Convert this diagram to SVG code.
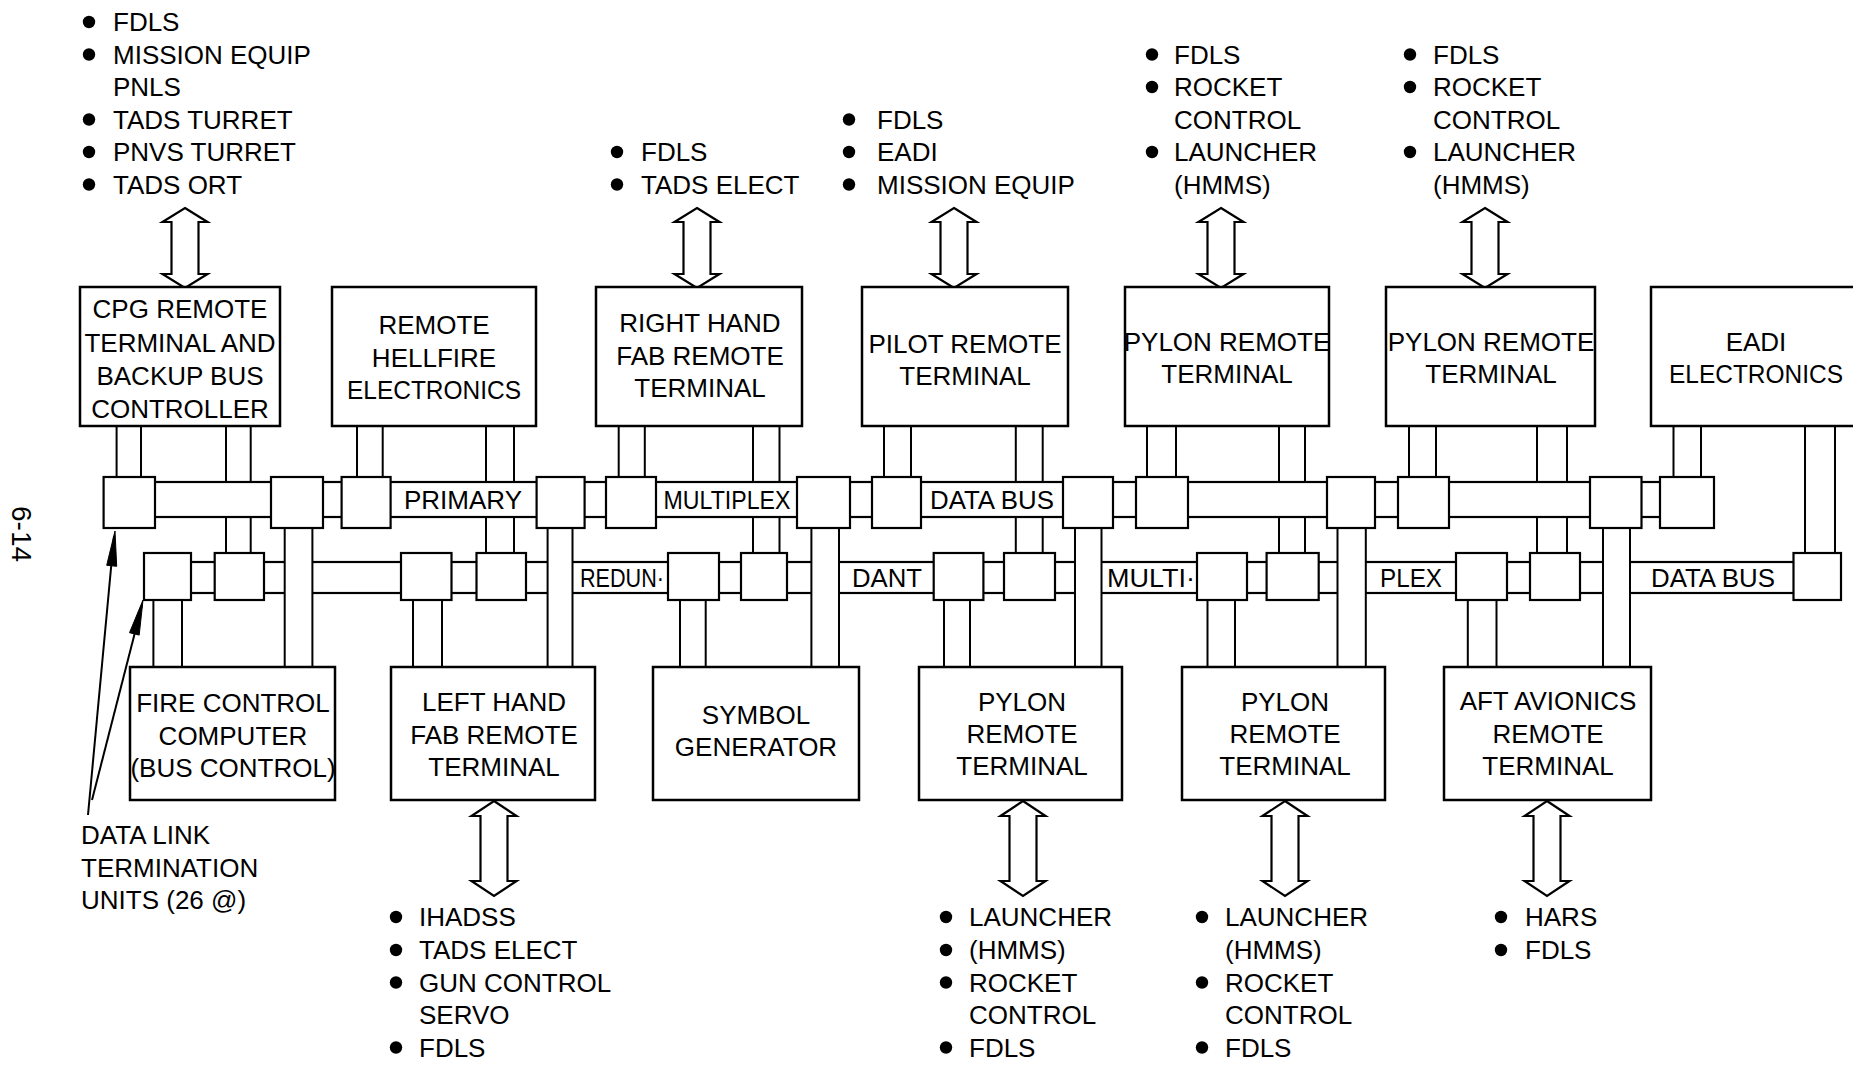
<svg xmlns="http://www.w3.org/2000/svg" xmlns:xlink="http://www.w3.org/1999/xlink" width="1853" height="1065" viewBox="0 0 1853 1065">
<style>
.box{fill:#fff;stroke:#000;stroke-width:2.5}
.dl{fill:#fff;stroke:#000;stroke-width:2.2}
.cab{fill:#fff;stroke:#000;stroke-width:2}
.bus{fill:#fff;stroke:#000;stroke-width:2.2}
.arr{fill:#fff;stroke:#000;stroke-width:2.2;stroke-linejoin:miter}
.ln{fill:none;stroke:#000;stroke-width:2}
.ah{fill:#000;stroke:#000;stroke-width:1}
text{font-family:"Liberation Sans",Arial,sans-serif;font-size:26px;fill:#000}
.c{text-anchor:middle}
.bl{fill:#000}
</style>
<defs>
<path id="darT" class="arr" d="M0,0 L22.5,14 L13.5,14 L13.5,66 L22.5,66 L0,80 L-22.5,66 L-13.5,66 L-13.5,14 L-22.5,14 Z"/>
<path id="darB" class="arr" d="M0,0 L22.5,15 L13.5,15 L13.5,80 L22.5,80 L0,95 L-22.5,80 L-13.5,80 L-13.5,15 L-22.5,15 Z"/>
</defs>
<rect width="1853" height="1065" fill="#fff"/>

<g id="connectors">
  <rect class="cab" x="226" y="426" width="24.7" height="127"/>
  <rect class="cab" x="486" y="426" width="28" height="127"/>
  <rect class="cab" x="753" y="426" width="26.5" height="127"/>
  <rect class="cab" x="1015.8" y="426" width="26.9" height="127"/>
  <rect class="cab" x="1279" y="426" width="26" height="127"/>
  <rect class="cab" x="1537" y="426" width="30" height="127"/>
  <rect class="cab" x="1805" y="426" width="30" height="127"/>
  <rect class="cab" x="116.6" y="426" width="24.4" height="51"/>
  <rect class="cab" x="357" y="426" width="25.7" height="51"/>
  <rect class="cab" x="618.7" y="426" width="26.1" height="51"/>
  <rect class="cab" x="884" y="426" width="27" height="51"/>
  <rect class="cab" x="1147" y="426" width="29" height="51"/>
  <rect class="cab" x="1409" y="426" width="27" height="51"/>
  <rect class="cab" x="1673.5" y="426" width="27.5" height="51"/>
  <rect class="bus" x="130" y="482" width="1560" height="35"/>
  <rect class="bus" x="165" y="562" width="1650" height="31"/>
  <rect class="cab" x="284.7" y="528" width="27.7" height="139"/>
  <rect class="cab" x="547.6" y="528" width="24.9" height="139"/>
  <rect class="cab" x="811.4" y="528" width="27.6" height="139"/>
  <rect class="cab" x="1075" y="528" width="26.5" height="139"/>
  <rect class="cab" x="1337.5" y="528" width="28.3" height="139"/>
  <rect class="cab" x="1603" y="528" width="27" height="139"/>
  <rect class="cab" x="153.4" y="600" width="28.6" height="67"/>
  <rect class="cab" x="413" y="600" width="29" height="67"/>
  <rect class="cab" x="680" y="600" width="25.7" height="67"/>
  <rect class="cab" x="944" y="600" width="26" height="67"/>
  <rect class="cab" x="1207.5" y="600" width="27.5" height="67"/>
  <rect class="cab" x="1467.8" y="600" width="28.7" height="67"/>
  <text class="c" x="463" y="509">PRIMARY</text>
  <text class="c" x="727" y="509" textLength="127" lengthAdjust="spacingAndGlyphs">MULTIPLEX</text>
  <text class="c" x="992" y="509" textLength="124" lengthAdjust="spacingAndGlyphs">DATA BUS</text>
  <text class="c" x="622" y="587" textLength="84" lengthAdjust="spacingAndGlyphs">REDUN·</text>
  <text class="c" x="887" y="587" textLength="70" lengthAdjust="spacingAndGlyphs">DANT</text>
  <text class="c" x="1151" y="587" textLength="88" lengthAdjust="spacingAndGlyphs">MULTI·</text>
  <text class="c" x="1411" y="587" textLength="62" lengthAdjust="spacingAndGlyphs">PLEX</text>
  <text class="c" x="1713" y="587" textLength="124" lengthAdjust="spacingAndGlyphs">DATA BUS</text>
  <rect class="dl" x="103.6" y="477" width="51.4" height="51"/>
  <rect class="dl" x="271" y="477" width="52" height="51"/>
  <rect class="dl" x="341.6" y="477" width="49" height="51"/>
  <rect class="dl" x="536.6" y="477" width="48" height="51"/>
  <rect class="dl" x="606" y="477" width="50" height="51"/>
  <rect class="dl" x="797" y="477" width="53" height="51"/>
  <rect class="dl" x="872" y="477" width="49" height="51"/>
  <rect class="dl" x="1063" y="477" width="50" height="51"/>
  <rect class="dl" x="1136" y="477" width="52" height="51"/>
  <rect class="dl" x="1327" y="477" width="48" height="51"/>
  <rect class="dl" x="1398" y="477" width="51" height="51"/>
  <rect class="dl" x="1590" y="477" width="51.5" height="51"/>
  <rect class="dl" x="1660" y="477" width="54" height="51"/>
  <rect class="dl" x="144" y="553" width="47" height="47"/>
  <rect class="dl" x="214.7" y="553" width="49.3" height="47"/>
  <rect class="dl" x="401" y="553" width="50.5" height="47"/>
  <rect class="dl" x="476.5" y="553" width="49.5" height="47"/>
  <rect class="dl" x="668" y="553" width="51" height="47"/>
  <rect class="dl" x="741" y="553" width="46" height="47"/>
  <rect class="dl" x="933.7" y="553" width="49.7" height="47"/>
  <rect class="dl" x="1004" y="553" width="51" height="47"/>
  <rect class="dl" x="1197" y="553" width="50" height="47"/>
  <rect class="dl" x="1266.6" y="553" width="52.1" height="47"/>
  <rect class="dl" x="1456" y="553" width="51" height="47"/>
  <rect class="dl" x="1530" y="553" width="50" height="47"/>
  <rect class="dl" x="1793.5" y="553" width="47.5" height="47"/>
  <use xlink:href="#darT" x="185" y="208"/>
  <use xlink:href="#darT" x="697" y="208"/>
  <use xlink:href="#darT" x="954" y="208"/>
  <use xlink:href="#darT" x="1221" y="208"/>
  <use xlink:href="#darT" x="1485" y="208"/>
  <use xlink:href="#darB" x="494" y="801"/>
  <use xlink:href="#darB" x="1023" y="801"/>
  <use xlink:href="#darB" x="1285" y="801"/>
  <use xlink:href="#darB" x="1547" y="801"/>
  <line class="ln" x1="88" y1="815" x2="114" y2="536"/>
  <polygon class="ah" points="115,531 116.7,566.3 106.7,565.3"/>
  <line class="ln" x1="92" y1="800" x2="142" y2="605"/>
  <polygon class="ah" points="143,600 139.2,635.1 129.5,632.7"/>
</g>

<g id="cpg-remote-terminal">
  <rect class="box" x="80" y="287" width="200" height="139"/>
  <text class="c" x="180" y="318">CPG REMOTE</text>
  <text class="c" x="180" y="352">TERMINAL AND</text>
  <text class="c" x="180" y="385">BACKUP BUS</text>
  <text class="c" x="180" y="418">CONTROLLER</text>
</g>
<g id="remote-hellfire-electronics">
  <rect class="box" x="332" y="287" width="204" height="139"/>
  <text class="c" x="434" y="334">REMOTE</text>
  <text class="c" x="434" y="367">HELLFIRE</text>
  <text class="c" x="434" y="399" textLength="174" lengthAdjust="spacingAndGlyphs">ELECTRONICS</text>
</g>
<g id="rh-fab-remote-terminal">
  <rect class="box" x="596" y="287" width="206" height="139"/>
  <text class="c" x="700" y="332">RIGHT HAND</text>
  <text class="c" x="700" y="365">FAB REMOTE</text>
  <text class="c" x="700" y="397">TERMINAL</text>
</g>
<g id="pilot-remote-terminal">
  <rect class="box" x="862" y="287" width="206" height="139"/>
  <text class="c" x="965" y="353">PILOT REMOTE</text>
  <text class="c" x="965" y="385">TERMINAL</text>
</g>
<g id="pylon-remote-terminal-top-1">
  <rect class="box" x="1125" y="287" width="204" height="139"/>
  <text class="c" x="1227" y="351">PYLON REMOTE</text>
  <text class="c" x="1227" y="383">TERMINAL</text>
</g>
<g id="pylon-remote-terminal-top-2">
  <rect class="box" x="1386" y="287" width="209" height="139"/>
  <text class="c" x="1491" y="351">PYLON REMOTE</text>
  <text class="c" x="1491" y="383">TERMINAL</text>
</g>
<g id="eadi-electronics">
  <rect class="box" x="1651" y="287" width="220" height="139"/>
  <text class="c" x="1756" y="351">EADI</text>
  <text class="c" x="1756" y="383" textLength="174" lengthAdjust="spacingAndGlyphs">ELECTRONICS</text>
</g>

<g id="fire-control-computer">
  <rect class="box" x="130" y="667" width="205" height="133"/>
  <text class="c" x="233" y="712">FIRE CONTROL</text>
  <text class="c" x="233" y="745">COMPUTER</text>
  <text class="c" x="233" y="777">(BUS CONTROL)</text>
</g>
<g id="lh-fab-remote-terminal">
  <rect class="box" x="391" y="667" width="204" height="133"/>
  <text class="c" x="494" y="711">LEFT HAND</text>
  <text class="c" x="494" y="744">FAB REMOTE</text>
  <text class="c" x="494" y="776">TERMINAL</text>
</g>
<g id="symbol-generator">
  <rect class="box" x="653" y="667" width="206" height="133"/>
  <text class="c" x="756" y="724">SYMBOL</text>
  <text class="c" x="756" y="756">GENERATOR</text>
</g>
<g id="pylon-remote-terminal-bottom-1">
  <rect class="box" x="919" y="667" width="203" height="133"/>
  <text class="c" x="1022" y="711">PYLON</text>
  <text class="c" x="1022" y="743">REMOTE</text>
  <text class="c" x="1022" y="775">TERMINAL</text>
</g>
<g id="pylon-remote-terminal-bottom-2">
  <rect class="box" x="1182" y="667" width="203" height="133"/>
  <text class="c" x="1285" y="711">PYLON</text>
  <text class="c" x="1285" y="743">REMOTE</text>
  <text class="c" x="1285" y="775">TERMINAL</text>
</g>
<g id="aft-avionics-remote-terminal">
  <rect class="box" x="1444" y="667" width="207" height="133"/>
  <text class="c" x="1548" y="710">AFT AVIONICS</text>
  <text class="c" x="1548" y="743">REMOTE</text>
  <text class="c" x="1548" y="775">TERMINAL</text>
</g>

<g id="list-cpg">
  <circle class="bl" cx="89" cy="22" r="6.2"/><text x="113" y="31.3">FDLS</text>
  <circle class="bl" cx="89" cy="54.5" r="6.2"/><text x="113" y="63.8">MISSION EQUIP</text>
  <text x="113" y="96.3">PNLS</text>
  <circle class="bl" cx="89" cy="119.5" r="6.2"/><text x="113" y="128.8">TADS TURRET</text>
  <circle class="bl" cx="89" cy="152" r="6.2"/><text x="113" y="161.3">PNVS TURRET</text>
  <circle class="bl" cx="89" cy="184.5" r="6.2"/><text x="113" y="193.8">TADS ORT</text>
</g>
<g id="list-rh-fab">
  <circle class="bl" cx="617" cy="152" r="6.2"/><text x="641" y="161.3">FDLS</text>
  <circle class="bl" cx="617" cy="184.5" r="6.2"/><text x="641" y="193.8">TADS ELECT</text>
</g>
<g id="list-pilot">
  <circle class="bl" cx="849" cy="119.5" r="6.2"/><text x="877" y="128.8">FDLS</text>
  <circle class="bl" cx="849" cy="152" r="6.2"/><text x="877" y="161.3">EADI</text>
  <circle class="bl" cx="849" cy="184.5" r="6.2"/><text x="877" y="193.8">MISSION EQUIP</text>
</g>
<g id="list-pylon-top-1">
  <circle class="bl" cx="1152" cy="54.5" r="6.2"/><text x="1174" y="63.8">FDLS</text>
  <circle class="bl" cx="1152" cy="87" r="6.2"/><text x="1174" y="96.3">ROCKET</text>
  <text x="1174" y="128.8">CONTROL</text>
  <circle class="bl" cx="1152" cy="152" r="6.2"/><text x="1174" y="161.3">LAUNCHER</text>
  <text x="1174" y="193.8">(HMMS)</text>
</g>
<g id="list-pylon-top-2">
  <circle class="bl" cx="1410" cy="54.5" r="6.2"/><text x="1433" y="63.8">FDLS</text>
  <circle class="bl" cx="1410" cy="87" r="6.2"/><text x="1433" y="96.3">ROCKET</text>
  <text x="1433" y="128.8">CONTROL</text>
  <circle class="bl" cx="1410" cy="152" r="6.2"/><text x="1433" y="161.3">LAUNCHER</text>
  <text x="1433" y="193.8">(HMMS)</text>
</g>
<g id="list-lh-fab">
  <circle class="bl" cx="396" cy="917" r="6.2"/><text x="419" y="926.3">IHADSS</text>
  <circle class="bl" cx="396" cy="950" r="6.2"/><text x="419" y="959.3">TADS ELECT</text>
  <circle class="bl" cx="396" cy="982.5" r="6.2"/><text x="419" y="991.8">GUN CONTROL</text>
  <text x="419" y="1024.3">SERVO</text>
  <circle class="bl" cx="396" cy="1047.5" r="6.2"/><text x="419" y="1056.8">FDLS</text>
</g>
<g id="list-pylon-bottom-1">
  <circle class="bl" cx="946" cy="917" r="6.2"/><text x="969" y="926.3">LAUNCHER</text>
  <circle class="bl" cx="946" cy="950" r="6.2"/><text x="969" y="959.3">(HMMS)</text>
  <circle class="bl" cx="946" cy="982.5" r="6.2"/><text x="969" y="991.8">ROCKET</text>
  <text x="969" y="1024.3">CONTROL</text>
  <circle class="bl" cx="946" cy="1047.5" r="6.2"/><text x="969" y="1056.8">FDLS</text>
</g>
<g id="list-pylon-bottom-2">
  <circle class="bl" cx="1202" cy="917" r="6.2"/><text x="1225" y="926.3">LAUNCHER</text>
  <text x="1225" y="959.3">(HMMS)</text>
  <circle class="bl" cx="1202" cy="982.5" r="6.2"/><text x="1225" y="991.8">ROCKET</text>
  <text x="1225" y="1024.3">CONTROL</text>
  <circle class="bl" cx="1202" cy="1047.5" r="6.2"/><text x="1225" y="1056.8">FDLS</text>
</g>
<g id="list-aft-avionics">
  <circle class="bl" cx="1501" cy="917" r="6.2"/><text x="1525" y="926.3">HARS</text>
  <circle class="bl" cx="1501" cy="950" r="6.2"/><text x="1525" y="959.3">FDLS</text>
</g>

<g id="dltu-label">
  <text x="81" y="844.3">DATA LINK</text>
  <text x="81" y="877.3">TERMINATION</text>
  <text x="81" y="909.3">UNITS (26 @)</text>
</g>
<g id="page-number">
  <text transform="translate(12,506) rotate(90)" style="font-size:28px">6-14</text>
</g>
</svg>
